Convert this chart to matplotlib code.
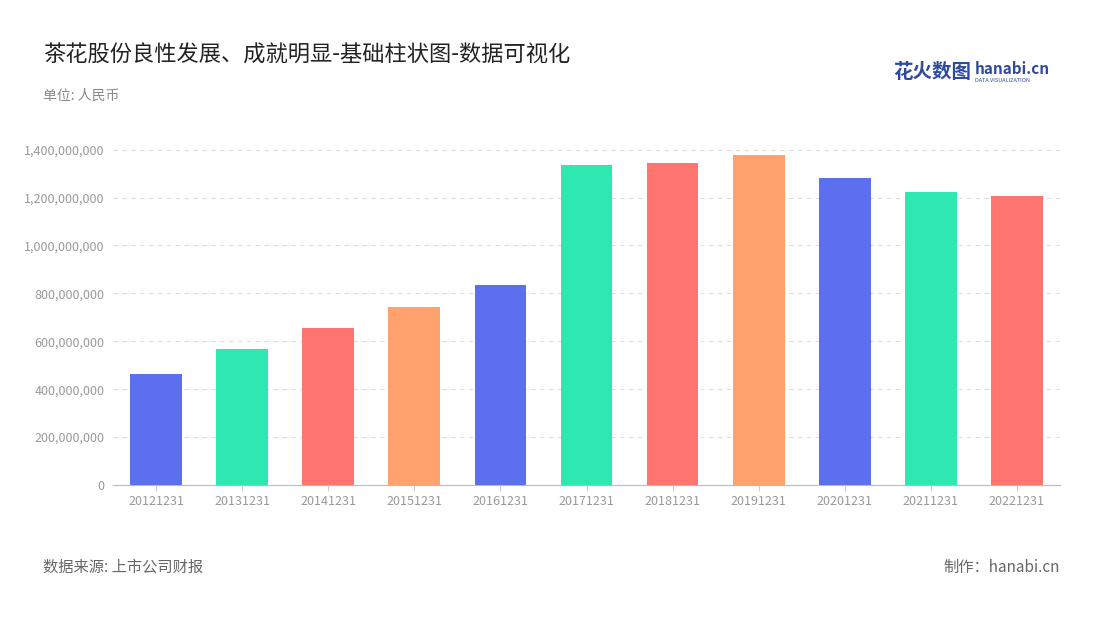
import matplotlib
matplotlib.use("Agg")
import matplotlib.pyplot as plt

plt.rcParams['font.family'] = ['Noto Sans CJK SC', 'DejaVu Sans']

categories = ["20121231","20131231","20141231","20151231","20161231","20171231",
              "20181231","20191231","20201231","20211231","20221231"]
values = [464e6, 568e6, 656e6, 744e6, 836e6, 1337e6, 1346e6, 1379e6, 1283e6, 1224e6, 1208e6]
palette = ["#5B6FEF", "#2DE8B0", "#FF7670", "#FFA26E"]
yticks = [0, 200e6, 400e6, 600e6, 800e6, 1000e6, 1200e6, 1400e6]

fig = plt.figure(figsize=(11, 6.2), dpi=100)
ax = fig.add_axes([113/1100, 1-485/620, (1060-113)/1100, (485-140)/620])
colors = [palette[i % 4] for i in range(len(values))]
ax.bar(range(len(values)), values, width=0.6, color=colors, zorder=3)
ax.set_xlim(-0.5, len(values)-0.5)
ax.set_ylim(0, 1440e6)
ax.set_yticks(yticks)
ax.set_yticklabels([f"{int(v):,}" for v in yticks], color="#999999", fontsize=9)
ax.set_xticks(range(len(values)))
ax.set_xticklabels(categories, color="#999999", fontsize=9)
ax.tick_params(axis='y', length=0, pad=6)
ax.tick_params(axis='x', length=4, color="#cccccc")
ax.grid(axis='y', linestyle=(0, (4, 4)), color="#dddddd", zorder=0)
for s in ["top", "right", "left"]:
    ax.spines[s].set_visible(False)
ax.spines["bottom"].set_color("#bbbbbb")

fig.text(43/1100, 1-55/620, "茶花股份良性发展、成就明显-基础柱状图-数据可视化", fontsize=16, color="#222222", va="center")
fig.text(43/1100, 1-96/620, "单位: 人民币", fontsize=10, color="#888888", va="center")
fig.text(43/1100, 1-567/620, "数据来源: 上市公司财报", fontsize=11, color="#666666", va="center")
fig.text(1060/1100, 1-567/620, "制作：hanabi.cn", fontsize=11, color="#666666", va="center", ha="right")
fig.text(893/1100, 1-72/620, "花火数图", fontsize=14, color="#2F4A9E", weight="bold", va="center")
fig.text(975/1100, 1-69/620, "hanabi.cn", fontsize=11, color="#2F4A9E", weight="bold", va="center")
fig.text(975/1100, 1-80/620, "DATA VISUALIZATION", fontsize=4, color="#2F4A9E", va="center")

fig.savefig("out.png", dpi=100)
